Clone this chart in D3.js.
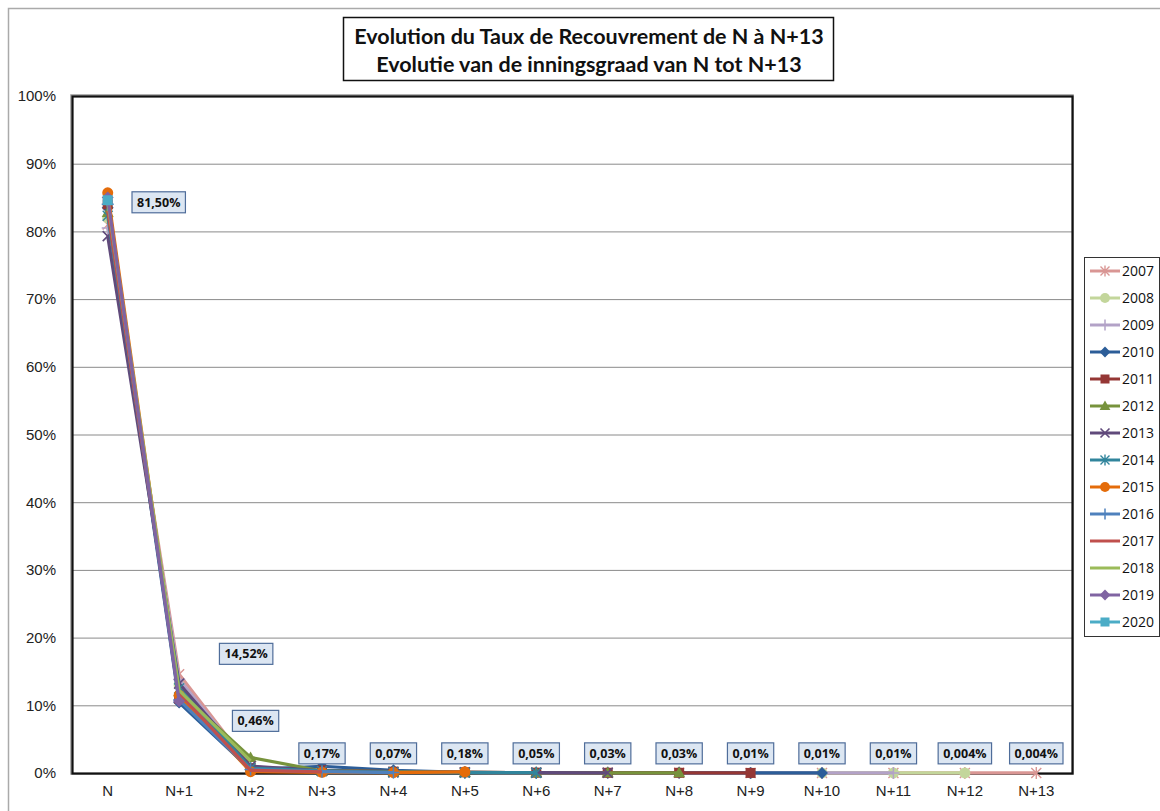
<!DOCTYPE html>
<html>
<head>
<meta charset="utf-8">
<script src="https://cdn.jsdelivr.net/npm/d3@7"></script>
<style>
  body { margin: 0; background: #fff; }
  svg { display: block; font-family: "Open Sans", "Noto Sans", sans-serif; }
  .axis text { font-size: 15px; fill: #222; }
  .lbl text { font-size: 12.5px; font-weight: bold; fill: #111; }
</style>
</head>
<body>
<svg id="chart" width="1160" height="811"></svg>
<script>
const categories = ["N","N+1","N+2","N+3","N+4","N+5","N+6","N+7","N+8","N+9","N+10","N+11","N+12","N+13"];
const years = ["2007","2008","2009","2010","2011","2012","2013","2014","2015","2016","2017","2018","2019","2020"];

// taux de recouvrement (%) par année, de N jusqu'au dernier exercice connu
const s2007 = [81.0, 14.6, 0.9, 0.35, 0.2, 0.1, 0.05, 0.03, 0.03, 0.01, 0.01, 0.01, 0.004, 0.004];
const s2008 = [82.0, 13.0, 0.7, 0.3, 0.15, 0.08, 0.05, 0.03, 0.02, 0.01, 0.01, 0.01, 0.004];
const s2009 = [80.5, 13.8, 0.9, 0.3, 0.15, 0.08, 0.05, 0.03, 0.02, 0.01, 0.01, 0.01];
const s2010 = [83.5, 10.4, 0.5, 1.0, 0.4, 0.1, 0.05, 0.03, 0.03, 0.01, 0.01];
const s2011 = [84.0, 11.0, 0.7, 0.4, 0.2, 0.1, 0.05, 0.03, 0.03, 0.01];
const s2012 = [82.8, 12.0, 2.3, 0.3, 0.2, 0.1, 0.05, 0.03, 0.03];
const s2013 = [79.3, 13.2, 1.0, 0.3, 0.1, 0.1, 0.05, 0.03];
const s2014 = [82.3, 12.5, 0.7, 0.3, 0.1, 0.05, 0.05];
const s2015 = [85.7, 11.5, 0.2, 0.1, 0.07, 0.18];
const s2016 = [84.0, 10.8, 0.5, 0.2, 0.07];
const s2017 = [83.0, 11.8, 0.4, 0.17];
const s2018 = [84.5, 12.2, 1.8];
const s2019 = [85.0, 10.6];
const s2020 = [84.6];
const seriesValues = [s2007, s2008, s2009, s2010, s2011, s2012, s2013, s2014, s2015, s2016, s2017, s2018, s2019, s2020];

// moyennes affichées
const avgLabels = ["81,50%","14,52%","0,46%","0,17%","0,07%","0,18%","0,05%","0,03%","0,03%","0,01%","0,01%","0,01%","0,004%","0,004%"];
const yTicks = [0,10,20,30,40,50,60,70,80,90,100];

const colors = ["#D99694","#C3D69B","#B3A2C7","#2C5D98","#953735","#77933C","#604A7B","#31859C","#E46C0A","#4F81BD","#C0504D","#9BBB59","#8064A2","#4BACC6"];
const markers = ["star","circle","plus","diamond","square","triangle","cross","star","circle","plus",null,null,"diamond","square"];

const svg = d3.select("#chart");
const margin = {top: 96, left: 72, right: 88, bottom: 38};
const width = 1160 - margin.left - margin.right;
const height = 811 - margin.top - margin.bottom;

// cadre extérieur
svg.append("rect").attr("x", 8.5).attr("y", 8.5).attr("width", 1170).attr("height", 820)
  .attr("fill", "none").attr("stroke", "#aaa").attr("stroke-width", 1.5);

const x = d3.scaleBand().domain(categories).range([0, width]);
const y = d3.scaleLinear().domain([0, 100]).range([height, 0]);

const g = svg.append("g").attr("transform", `translate(${margin.left},${margin.top})`);

// grille
g.selectAll("line.grid").data(yTicks.slice(1, -1)).enter().append("line")
  .attr("class", "grid")
  .attr("x1", 0).attr("x2", width)
  .attr("y1", d => y(d) + 0.5).attr("y2", d => y(d) + 0.5)
  .attr("stroke", "#8a8a8a").attr("stroke-width", 1);

// axes
const yAxis = d3.axisLeft(y).tickValues(yTicks).tickSize(0).tickPadding(16).tickFormat(d => d + "%");
g.append("g").attr("class", "axis").call(yAxis).call(a => a.select(".domain").remove());
const xAxis = d3.axisBottom(x).tickSize(0).tickPadding(12);
g.append("g").attr("class", "axis").attr("transform", `translate(0,${height})`).call(xAxis)
  .call(a => a.select(".domain").remove());

// cadre de la zone de tracé
g.append("rect").attr("x", -1).attr("y", -1).attr("width", width + 2).attr("height", height + 2)
  .attr("fill", "none").attr("stroke", "#999").attr("stroke-width", 1.5);
g.append("rect").attr("x", 0.5).attr("y", 0.5).attr("width", width).attr("height", height)
  .attr("fill", "none").attr("stroke", "#111").attr("stroke-width", 2.2);

const cx = c => x(c) + x.bandwidth() / 2;
const line = d3.line().x((d, i) => cx(categories[i])).y(d => y(d));

function drawMarker(sel, type, color, size) {
  const s = size;
  if (type === "circle") sel.append("circle").attr("r", s * 0.55).attr("fill", color);
  else if (type === "square") sel.append("rect").attr("x", -s / 2).attr("y", -s / 2).attr("width", s).attr("height", s).attr("fill", color);
  else if (type === "diamond") sel.append("path").attr("d", `M0,${-s*0.6}L${s*0.6},0L0,${s*0.6}L${-s*0.6},0Z`).attr("fill", color);
  else if (type === "triangle") sel.append("path").attr("d", `M0,${-s*0.6}L${s*0.6},${s*0.45}L${-s*0.6},${s*0.45}Z`).attr("fill", color);
  else if (type === "plus") sel.append("path").attr("d", `M${-s*0.6},0H${s*0.6}M0,${-s*0.6}V${s*0.6}`).attr("stroke", color).attr("stroke-width", 1.5);
  else if (type === "cross") sel.append("path").attr("d", `M${-s*0.5},${-s*0.5}L${s*0.5},${s*0.5}M${s*0.5},${-s*0.5}L${-s*0.5},${s*0.5}`).attr("stroke", color).attr("stroke-width", 1.6);
  else if (type === "star") sel.append("path").attr("d", `M${-s*0.5},${-s*0.5}L${s*0.5},${s*0.5}M${s*0.5},${-s*0.5}L${-s*0.5},${s*0.5}M0,${-s*0.6}V${s*0.6}`).attr("stroke", color).attr("stroke-width", 1.4);
}

// séries
seriesValues.forEach((vals, k) => {
  const sg = g.append("g");
  if (vals.length > 1) {
    sg.append("path").datum(vals).attr("d", line)
      .attr("fill", "none").attr("stroke", colors[k]).attr("stroke-width", 3.2).attr("stroke-linejoin", "round");
  }
  if (markers[k]) {
    sg.selectAll("g.m").data(vals).enter().append("g")
      .attr("transform", (d, i) => `translate(${cx(categories[i])},${y(d)})`)
      .each(function() { drawMarker(d3.select(this), markers[k], colors[k], 10); });
  }
});

// étiquettes des moyennes
const labelOffsets = [[51, 84.3], [67, 17.6], [5, 7.7]];
avgLabels.forEach((t, i) => {
  const off = labelOffsets[i] || [0, 2.9];
  const lx = cx(categories[i]) + off[0];
  const ly = y(off[1]);
  const lg = g.append("g").attr("class", "lbl").attr("transform", `translate(${lx},${ly})`);
  const txt = lg.append("text").attr("text-anchor", "middle").attr("dy", "0.35em").text(t);
  const w = txt.node().getComputedTextLength() + 10;
  lg.insert("rect", "text").attr("x", -w / 2).attr("y", -10.5).attr("width", w).attr("height", 21)
    .attr("fill", "#DCE6F2").attr("stroke", "#4F6D9A").attr("stroke-width", 1.2);
});

// légende
const lgX = 1084, lgY = 257;
const legend = svg.append("g");
legend.append("rect").attr("x", lgX + 0.5).attr("y", lgY + 0.5).attr("width", 75).attr("height", 379)
  .attr("fill", "#fff").attr("stroke", "#333").attr("stroke-width", 1);
years.forEach((yr, k) => {
  const ey = lgY + 14 + k * 27;
  const e = legend.append("g");
  e.append("line").attr("x1", lgX + 6).attr("x2", lgX + 36).attr("y1", ey).attr("y2", ey)
    .attr("stroke", colors[k]).attr("stroke-width", 3);
  if (markers[k]) {
    const mg = e.append("g").attr("transform", `translate(${lgX + 21},${ey})`);
    drawMarker(mg, markers[k], colors[k], 9);
  }
  e.append("text").attr("x", lgX + 38).attr("y", ey).attr("dy", "0.35em")
    .attr("font-size", 14).attr("fill", "#111").text(yr);
});

// titre
const tg = svg.append("g");
tg.append("rect").attr("x", 343.5).attr("y", 17.5).attr("width", 490).attr("height", 63)
  .attr("fill", "#fff").attr("stroke", "#111").attr("stroke-width", 1.5);
const titleLines = ["Evolution du Taux de Recouvrement de N à N+13", "Evolutie van de inningsgraad van N tot N+13"];
titleLines.forEach((t, i) => {
  tg.append("text").attr("x", 589).attr("y", 36 + i * 28).attr("dy", "0.35em")
    .attr("text-anchor", "middle").attr("font-size", 21.5).attr("font-weight", "bold")
    .attr("font-family", "Lato, 'Open Sans', sans-serif").attr("fill", "#111").text(t);
});
</script>
</body>
</html>
